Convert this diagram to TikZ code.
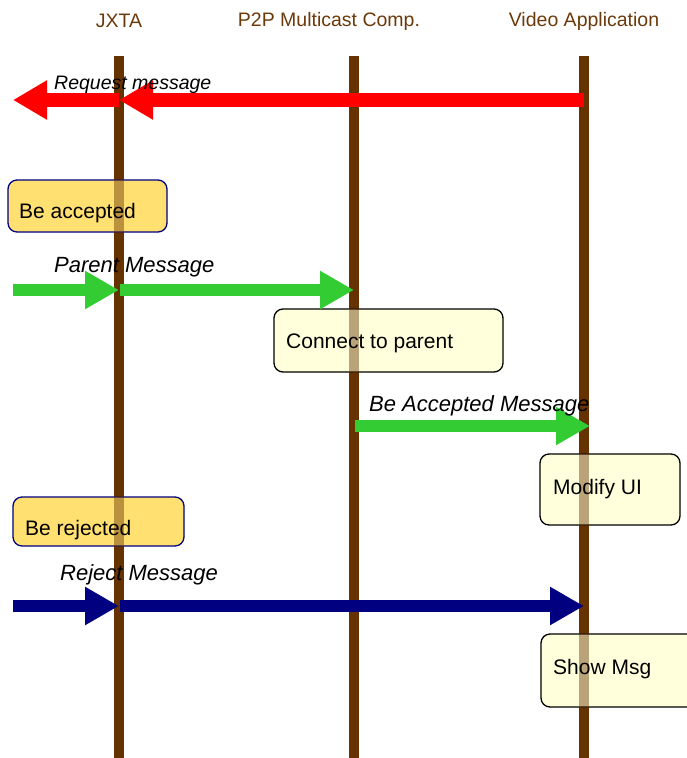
\documentclass[tikz,border=0pt]{standalone}
\usepackage{fontspec}
\setmainfont{Liberation Sans}
\usetikzlibrary{arrows.meta}
\definecolor{lifebrown}{HTML}{663300}
\definecolor{headbrown}{HTML}{6B3A0A}
\definecolor{msgred}{HTML}{FF0000}
\definecolor{msggreen}{HTML}{33CC33}
\definecolor{msgnavy}{HTML}{000080}
\definecolor{goldfill}{HTML}{FFE070}
\definecolor{paleyellow}{HTML}{FFFFDC}
\tikzset{
  lifeline/.style={draw=lifebrown, line width=10pt},
  lifetint/.style={draw=lifebrown, line width=10pt, draw opacity=0.45},
  header/.style={text=headbrown, font=\fontsize{19.5}{23}\selectfont, inner sep=0pt},
  msglabel/.style={font=\itshape\fontsize{22}{26}\selectfont, anchor=west, inner sep=0pt},
  boxtext/.style={font=\fontsize{21}{25}\selectfont, anchor=west, inner sep=0pt},
  goldbox/.style={draw=msgnavy, line width=1.3pt, fill=goldfill, rounded corners=9pt},
  palebox/.style={draw=black, line width=1.3pt, fill=paleyellow, rounded corners=9pt},
  redmsg/.style={draw=msgred, line width=14pt, -{Triangle[length=34pt, width=37pt]}},
  greenmsg/.style={draw=msggreen, line width=12pt, -{Triangle[length=34pt, width=36pt]}},
  navymsg/.style={draw=msgnavy, line width=12pt, -{Triangle[length=34pt, width=36pt]}}
}
\begin{document}
\begin{tikzpicture}[x=1pt, y=-1pt]
\useasboundingbox (0,0) rectangle (687,758);
\clip (0,0) rectangle (687,758);
% headers
\node[header] (hJ) at (119,21) {JXTA};
\node[header] (hP) at (329,21) {P2P Multicast Comp.};
\node[header] (hV) at (584,21) {Video Application};
% lifelines
\coordinate (jT) at (119,56); \coordinate (jB) at (119,758);
\coordinate (pT) at (354,56); \coordinate (pB) at (354,758);
\coordinate (vT) at (584,56); \coordinate (vB) at (584,758);
\draw[lifeline] (jT) -- (jB);
\draw[lifeline] (pT) -- (pB);
\draw[lifeline] (vT) -- (vB);
% boxes
\path[goldbox] (8,180) rectangle (167,232);
\path[palebox] (274,309) rectangle (503,372);
\path[palebox] (540,454) rectangle (680,525);
\path[goldbox] (13,497) rectangle (184,546);
\path[palebox] (541,634) rectangle (705,707);
% lifelines seen through the boxes
\draw[lifetint] (jT) -- (jB);
\draw[lifetint] (pT) -- (pB);
\draw[lifetint] (vT) -- (vB);
% box texts
\node[boxtext] (tAcc) at (19,213) {Be accepted};
\node[boxtext] (tConn) at (286,343) {Connect to parent};
\node[boxtext] (tMod) at (553,489) {Modify UI};
\node[boxtext] (tRej) at (25,530) {Be rejected};
\node[boxtext] (tShow) at (553,669) {Show Msg};
% request message
\coordinate (rV) at (584,100); \coordinate (rJ) at (119,100); \coordinate (rOut) at (13,100);
\draw[redmsg] (rV) -- (rJ);
\draw[redmsg] (rJ) -- (rOut);
\node[msglabel, font=\itshape\fontsize{19.5}{23}\selectfont] (lReq) at (54,85) {Request message};
% parent message
\coordinate (gIn) at (13,290); \coordinate (gJ) at (119,290); \coordinate (gJ2) at (120,290); \coordinate (gP) at (354,290);
\draw[greenmsg] (gIn) -- (gJ);
\draw[greenmsg] (gJ2) -- (gP);
\node[msglabel] (lPar) at (54,267) {Parent Message};
% be accepted message
\coordinate (aP) at (355,426); \coordinate (aV) at (590,426);
\draw[greenmsg] (aP) -- (aV);
\node[msglabel] (lAcc) at (369,406) {Be Accepted Message};
% reject message
\coordinate (nIn) at (13,606); \coordinate (nJ) at (119,606); \coordinate (nJ2) at (120,606); \coordinate (nV) at (584,606);
\draw[navymsg] (nIn) -- (nJ);
\draw[navymsg] (nJ2) -- (nV);
\node[msglabel] (lRej) at (60,575) {Reject Message};
\end{tikzpicture}
\end{document}
